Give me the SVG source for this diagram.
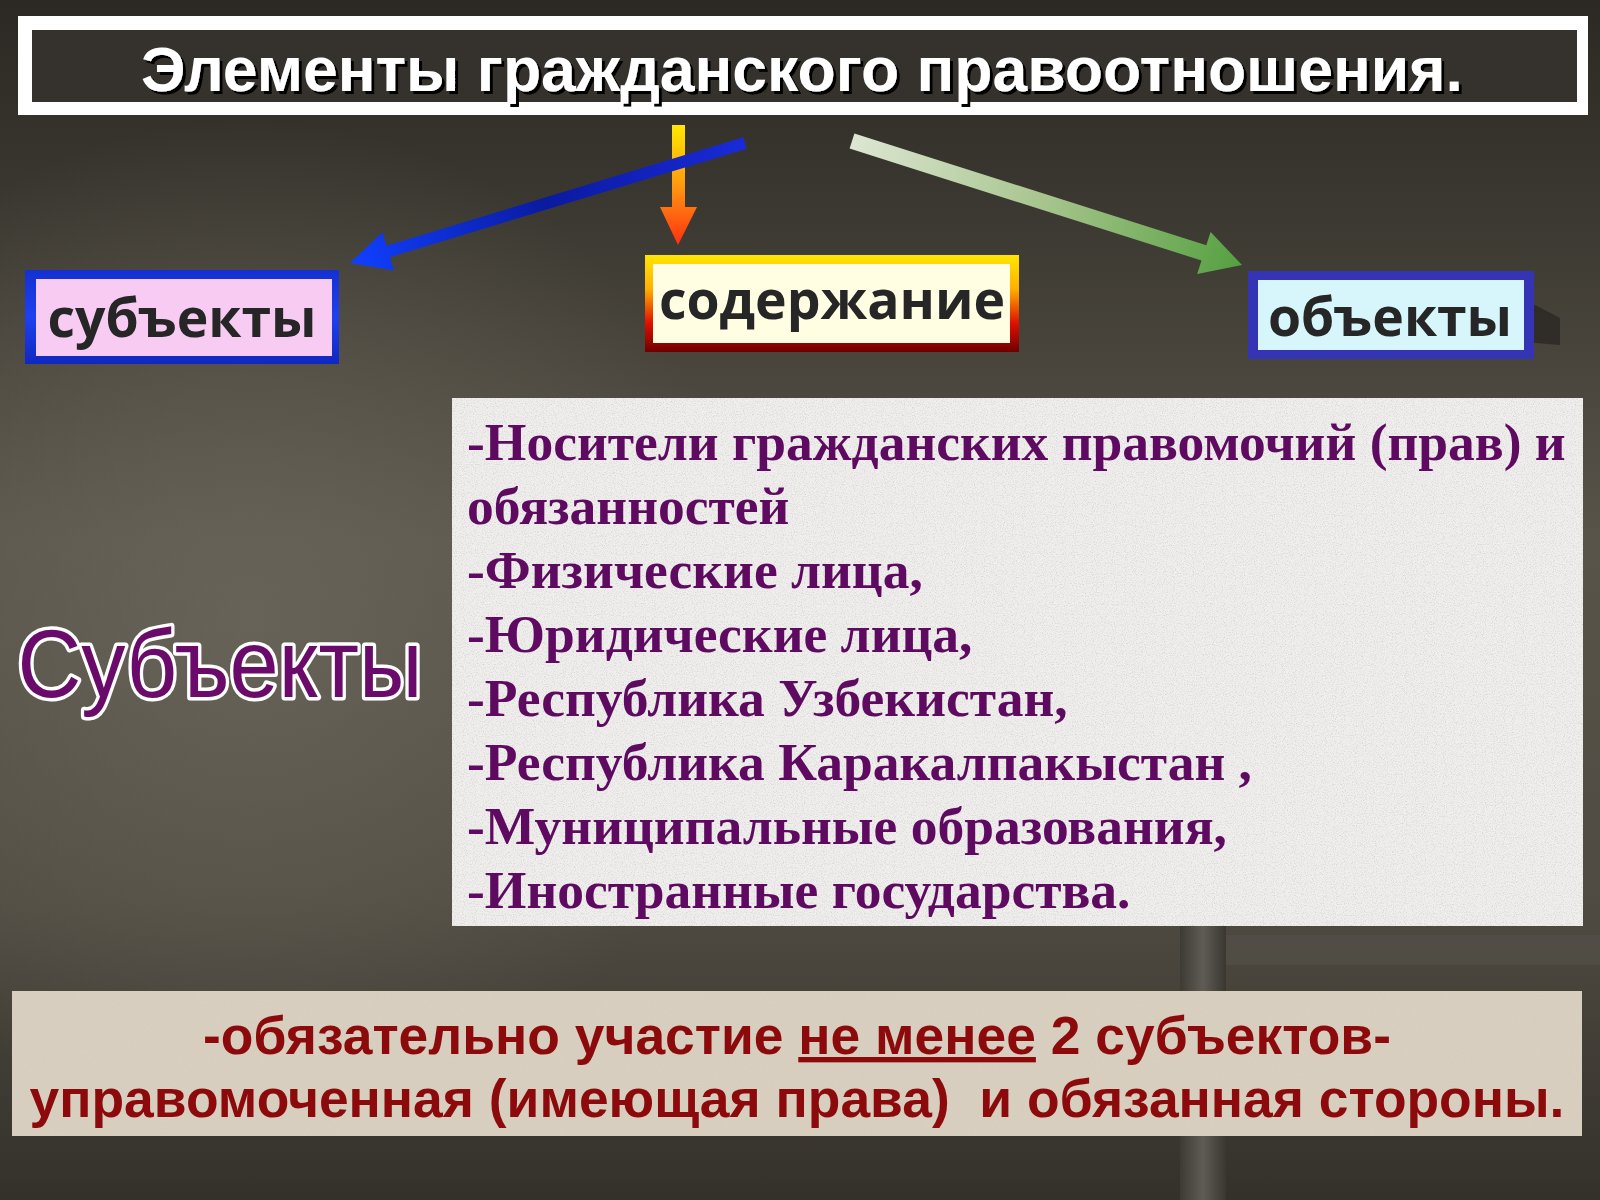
<svg xmlns="http://www.w3.org/2000/svg" width="1600" height="1200" viewBox="0 0 1600 1200">
<defs>
<linearGradient id="bg" x1="0" y1="0" x2="0" y2="1">
<stop offset="0" stop-color="#2c2924"/>
<stop offset="0.15" stop-color="#39362f"/>
<stop offset="0.45" stop-color="#58544a"/>
<stop offset="0.75" stop-color="#4f4b42"/>
<stop offset="1" stop-color="#34312b"/>
</linearGradient>
<radialGradient id="glow" cx="250" cy="620" r="500" gradientUnits="userSpaceOnUse">
<stop offset="0" stop-color="#6e6a5e" stop-opacity="0.7"/>
<stop offset="1" stop-color="#6e6a5e" stop-opacity="0"/>
</radialGradient>
<linearGradient id="pillar" x1="0" y1="0" x2="1" y2="0">
<stop offset="0" stop-color="#3e3b35"/>
<stop offset="0.5" stop-color="#5f5c55"/>
<stop offset="1" stop-color="#3a3731"/>
</linearGradient>
<linearGradient id="gOrange" x1="0" y1="125" x2="0" y2="245" gradientUnits="userSpaceOnUse">
<stop offset="0" stop-color="#ffe800"/>
<stop offset="0.5" stop-color="#ff9a10"/>
<stop offset="1" stop-color="#ff3010"/>
</linearGradient>
<linearGradient id="gBlue" x1="745" y1="143" x2="350" y2="263" gradientUnits="userSpaceOnUse">
<stop offset="0" stop-color="#1a2ad8"/>
<stop offset="0.5" stop-color="#0a1aa0"/>
<stop offset="1" stop-color="#1040ff"/>
</linearGradient>
<linearGradient id="gGreen" x1="852" y1="141" x2="1242" y2="265" gradientUnits="userSpaceOnUse">
<stop offset="0" stop-color="#dde6d2"/>
<stop offset="0.5" stop-color="#a6c48c"/>
<stop offset="1" stop-color="#55a040"/>
</linearGradient>
<linearGradient id="gBlueBorder" x1="0" y1="0" x2="0" y2="1">
<stop offset="0" stop-color="#1430d0"/>
<stop offset="0.5" stop-color="#2040f0"/>
<stop offset="1" stop-color="#1028c0"/>
</linearGradient>
<linearGradient id="gFire" x1="0" y1="0" x2="0" y2="1">
<stop offset="0" stop-color="#ffe600"/>
<stop offset="0.35" stop-color="#ffb000"/>
<stop offset="0.7" stop-color="#e01000"/>
<stop offset="1" stop-color="#6e0000"/>
</linearGradient>
<filter id="paper" x="0" y="0" width="1" height="1">
<feTurbulence type="fractalNoise" baseFrequency="0.9" numOctaves="2" seed="3" result="n"/>
<feColorMatrix in="n" type="matrix" values="0 0 0 0 0.6  0 0 0 0 0.6  0 0 0 0 0.6  0 0 0 -1.8 1.0" result="s"/>
<feComposite in="s" in2="SourceGraphic" operator="in" result="sp"/>
<feMerge><feMergeNode in="SourceGraphic"/><feMergeNode in="sp"/></feMerge>
</filter>
<filter id="shadow" x="-5%" y="-20%" width="110%" height="150%">
<feDropShadow dx="3" dy="3" stdDeviation="0.5" flood-color="#000000" flood-opacity="1"/>
</filter>
</defs>
<style>
.box{font-family:"Open Sans","Noto Sans","DejaVu Sans",sans-serif;font-weight:700;font-size:53.5px;fill:#262626;text-anchor:middle}
.list{font-family:"Liberation Serif","Times New Roman",serif;font-weight:700;font-size:53.5px;fill:#5e0a60}
.note{font-family:"Liberation Sans",Arial,sans-serif;font-weight:700;font-size:53.4px;fill:#8c0a0c;text-anchor:middle}
</style>

<!-- background -->
<rect x="0" y="0" width="1600" height="1200" fill="url(#bg)"/>
<rect x="0" y="0" width="1600" height="1200" fill="url(#glow)"/>
<rect x="1180" y="920" width="46" height="280" fill="url(#pillar)"/>
<rect x="1226" y="935" width="374" height="30" fill="#55524b" opacity="0.6"/>
<path d="M1490 318 L1535 305 L1560 318 L1560 345 L1500 340 Z" fill="#2a2723" opacity="0.8"/>

<g id="title">
<rect x="18" y="16" width="1570" height="99" fill="#ffffff"/>
<rect x="32" y="30" width="1545" height="72" fill="#35322d"/>
<text x="802" y="91" font-family="Liberation Sans, Arial, sans-serif" font-weight="700" font-size="62.5" fill="#ffffff" text-anchor="middle" filter="url(#shadow)">Элементы гражданского правоотношения.</text>
</g>

<g id="connectors">
<polygon points="672,125 685,125 685,207 697,207 678,245 660,207 672,207" fill="url(#gOrange)"/>
<polygon points="743.3,137.3 386.6,245.7 382.5,232.3 350,263 394.1,270.5 390,257.1 746.7,148.7" fill="url(#gBlue)"/>
<polygon points="854.4,133.4 1206.3,245.3 1210.6,231.9 1242,265 1197.2,273.9 1201.5,260.5 849.6,148.6" fill="url(#gGreen)"/>
</g>

<g id="node-subjects">
<rect x="25" y="270" width="314" height="94" fill="url(#gBlueBorder)"/>
<rect x="36" y="279" width="296" height="77" fill="#f8ccf2"/>
<text class="box" x="182" y="337">субъекты</text>
</g>

<g id="node-content">
<rect x="645" y="255" width="374" height="97" fill="url(#gFire)"/>
<rect x="653" y="264" width="357" height="79" fill="#fffde2"/>
<text class="box" x="832" y="319">содержание</text>
</g>

<g id="node-objects">
<rect x="1248" y="271" width="286" height="88" fill="#3434b4"/>
<rect x="1258" y="280" width="266" height="70" fill="#d6f6fb"/>
<text class="box" x="1390" y="336">объекты</text>
</g>

<g id="subjects-heading">
<text x="220" y="697" font-family="Liberation Sans, Arial, sans-serif" font-size="96" fill="#6a0a6a" stroke="#ffffff" stroke-width="7" paint-order="stroke" stroke-linejoin="round" text-anchor="middle" textLength="405" lengthAdjust="spacingAndGlyphs">Субъекты</text>
</g>

<g id="subjects-list">
<rect x="452" y="398" width="1131" height="528" fill="#f0efed" filter="url(#paper)"/>
<text class="list" x="467" y="460">-Носители гражданских правомочий (прав) и</text>
<text class="list" x="467" y="524">обязанностей</text>
<text class="list" x="467" y="588">-Физические лица,</text>
<text class="list" x="467" y="652">-Юридические лица,</text>
<text class="list" x="467" y="716">-Республика Узбекистан,</text>
<text class="list" x="467" y="780">-Республика Каракалпакыстан ,</text>
<text class="list" x="467" y="844">-Муниципальные образования,</text>
<text class="list" x="467" y="908">-Иностранные государства.</text>
</g>

<g id="note">
<rect x="12" y="991" width="1570" height="145" fill="#d9cfbc" filter="url(#paper)"/>
<text class="note" x="797" y="1054">-обязательно участие <tspan style="text-decoration:underline">не менее</tspan> 2 субъектов-</text>
<text class="note" x="797" y="1117" xml:space="preserve">управомоченная (имеющая права)  и обязанная стороны.</text>
</g>
</svg>
